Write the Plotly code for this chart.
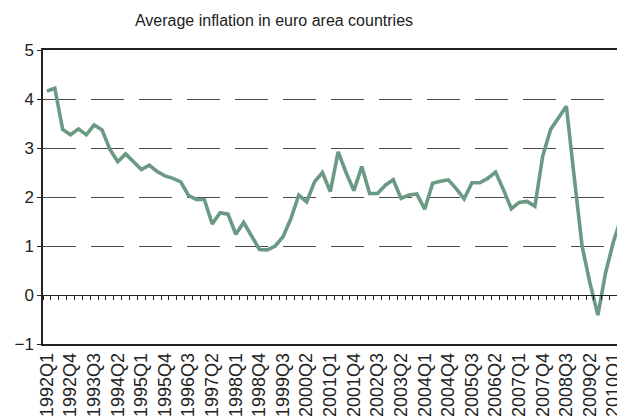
import plotly.graph_objects as go

# Quarterly categories 1992Q1 .. 2010Q2
quarters = [f"{y}Q{q}" for y in range(1992, 2011) for q in range(1, 5)][:74]

inflation = [
    4.16, 4.22, 3.38, 3.27, 3.39, 3.27, 3.47, 3.37, 2.97, 2.72,
    2.88, 2.72, 2.56, 2.65, 2.52, 2.43, 2.38, 2.31, 2.03, 1.95,
    1.95, 1.45, 1.68, 1.65, 1.24, 1.48, 1.20, 0.93, 0.92, 1.00,
    1.19, 1.56, 2.04, 1.90, 2.31, 2.50, 2.11, 2.92, 2.50, 2.13,
    2.62, 2.07, 2.07, 2.24, 2.35, 1.97, 2.04, 2.06, 1.75, 2.28,
    2.32, 2.35, 2.17, 1.96, 2.29, 2.29, 2.38, 2.51, 2.15, 1.76,
    1.89, 1.91, 1.81, 2.84, 3.38, 3.62, 3.85, 2.40, 0.99, 0.24,
    -0.41, 0.47, 1.10, 1.60,
]

tick_labels = [
    "1992Q1", "1992Q4", "1993Q3", "1994Q2", "1995Q1", "1995Q4", "1996Q3",
    "1997Q2", "1998Q1", "1998Q4", "1999Q3", "2000Q2", "2001Q1", "2001Q4",
    "2002Q3", "2003Q2", "2004Q1", "2004Q4", "2005Q3", "2006Q2", "2007Q1",
    "2007Q4", "2008Q3", "2009Q2", "2010Q1",
]
y_ticks = [-1, 0, 1, 2, 3, 4, 5]

FONT = "Liberation Sans, Arial, Helvetica, sans-serif"
xr = [-0.5, 72.43]

fig = go.Figure()
fig.add_trace(go.Scatter(
    x=quarters, y=inflation, mode="lines",
    line=dict(color="#6A9A84", width=3.6),
    hoverinfo="skip", showlegend=False, xaxis="x", yaxis="y",
))
# empty helper trace so the bottom label axis gets drawn
fig.add_trace(go.Scatter(
    x=quarters, y=[None] * len(quarters), mode="lines",
    hoverinfo="skip", showlegend=False, xaxis="x2", yaxis="y",
))

fig.update_layout(
    width=617, height=417,
    margin=dict(l=43, r=0, t=50, b=73, autoexpand=False),
    paper_bgcolor="white", plot_bgcolor="white",
    title=dict(text="Average inflation in euro area countries",
               x=274 / 617, xref="container", xanchor="center",
               y=1 - 20 / 417, yref="container", yanchor="middle",
               font=dict(family=FONT, size=16, color="#222222")),
    xaxis=dict(
        type="category", range=xr, anchor="free", position=1 / 6,
        tickmode="linear", tick0=0, dtick=1, tickson="boundaries",
        ticks="outside", ticklen=4, tickwidth=1, tickcolor="#222222",
        showticklabels=False, showgrid=False, zeroline=False,
        showline=True, linecolor="#222222", linewidth=1.2,
    ),
    xaxis2=dict(
        type="category", range=xr, overlaying="x", anchor="y", side="bottom",
        tickmode="array", tickvals=tick_labels, ticktext=tick_labels,
        tickangle=-90, ticks="",
        tickfont=dict(family=FONT, size=18, color="#222222"),
        showgrid=False, zeroline=False,
        showline=True, mirror=True, linecolor="#222222", linewidth=1.5,
    ),
    yaxis=dict(
        range=[-1, 5], tickmode="array", tickvals=y_ticks,
        ticks="outside", ticklen=4, tickcolor="#222222",
        tickfont=dict(family=FONT, size=17, color="#222222"),
        showgrid=True, gridcolor="#4a4a4a", gridwidth=1.2, griddash="33px,15px",
        zeroline=False,
        showline=True, linecolor="#222222", linewidth=1.5,
    ),
)

fig.write_html("out.html", config={"displayModeBar": False},
               post_script="document.body.style.margin='0';")
